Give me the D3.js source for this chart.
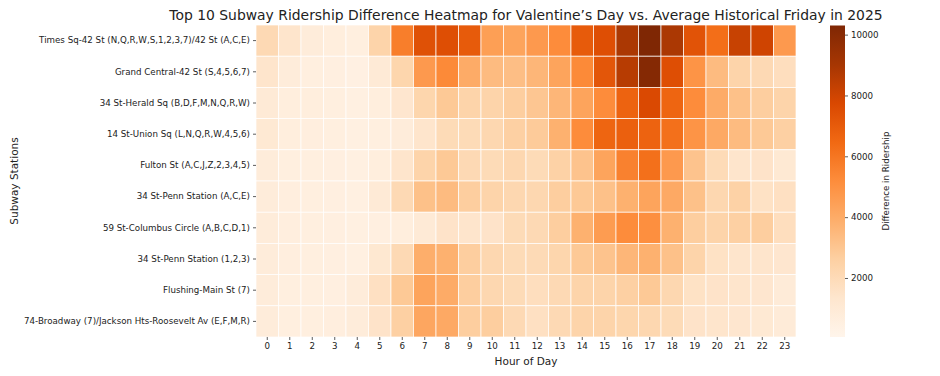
<!DOCTYPE html>
<html>
<head>
<meta charset="utf-8">
<script src="https://cdn.jsdelivr.net/npm/d3@7"></script>
<style>
  body { margin: 0; background: white; }
  text { font-family: "DejaVu Sans", sans-serif; fill: #222; }
</style>
</head>
<body>
<svg id="main-svg" width="940" height="376"></svg>
<script>
// stations (rows) and hours (columns)
const stations = [
    "Times Sq-42 St (N,Q,R,W,S,1,2,3,7)/42 St (A,C,E)",
    "Grand Central-42 St (S,4,5,6,7)",
    "34 St-Herald Sq (B,D,F,M,N,Q,R,W)",
    "14 St-Union Sq (L,N,Q,R,W,4,5,6)",
    "Fulton St (A,C,J,Z,2,3,4,5)",
    "34 St-Penn Station (A,C,E)",
    "59 St-Columbus Circle (A,B,C,D,1)",
    "34 St-Penn Station (1,2,3)",
    "Flushing-Main St (7)",
    "74-Broadway (7)/Jackson Hts-Roosevelt Av (E,F,M,R)"
];
const hours = d3.range(24);

// difference in ridership, one array per station (hours 0..23)
const timesSq      = [2100, 1400, 800, 700, 600, 2400, 5700, 7400, 7500, 7000, 4500, 4300, 4700, 5200, 7000, 7500, 8900, 10300, 8900, 7300, 6300, 8200, 8000, 4700];
const grandCentral = [1400, 800, 600, 550, 450, 1000, 2300, 4700, 5300, 4000, 3400, 3300, 3600, 4300, 5300, 7200, 8600, 10100, 7500, 4900, 3400, 2400, 2100, 1800];
const heraldSq     = [1000, 700, 700, 600, 500, 700, 1300, 2300, 2900, 2400, 2400, 2700, 3000, 3600, 4300, 5200, 6700, 7700, 6600, 5200, 4000, 3200, 2700, 2400];
const unionSq      = [1100, 700, 650, 600, 500, 600, 800, 1400, 2000, 2000, 2200, 2600, 2800, 3800, 5200, 6600, 6800, 6700, 6200, 4900, 4100, 3400, 2900, 2600];
const fultonSt     = [800, 600, 600, 550, 500, 700, 1400, 2400, 2900, 2100, 2000, 2200, 2000, 2500, 3100, 4300, 5600, 6200, 4700, 3100, 2000, 1400, 1500, 1100];
const pennACE      = [800, 650, 600, 550, 500, 1000, 2100, 3200, 3400, 2700, 2400, 2200, 2200, 2700, 2900, 3200, 3800, 4300, 4100, 3200, 2200, 2500, 1600, 1700];
const columbusCir  = [800, 650, 600, 550, 500, 550, 700, 1000, 1500, 1400, 1500, 2000, 2100, 2700, 3800, 4600, 5200, 5100, 3800, 2700, 2400, 2600, 2700, 1800];
const penn123      = [800, 650, 600, 550, 500, 1200, 2100, 3900, 3800, 2700, 2200, 2000, 2050, 2300, 2900, 3100, 3600, 3800, 3200, 2400, 1600, 1400, 1400, 1300];
const flushing     = [800, 600, 600, 550, 800, 1700, 2900, 4300, 4000, 2700, 2200, 2000, 1800, 2100, 2400, 2400, 2600, 2900, 2200, 1600, 1500, 1400, 1300, 900];
const broadway74   = [800, 600, 600, 650, 800, 1500, 2600, 4200, 4100, 2700, 2700, 2100, 1700, 2100, 2400, 2400, 2300, 2200, 2000, 1500, 1400, 1300, 1100, 900];

const rowValues = [timesSq, grandCentral, heraldSq, unionSq, fultonSt, pennACE, columbusCir, penn123, flushing, broadway74];
const colorTicks = [2000, 4000, 6000, 8000, 10000];
const colorMin = 60, colorMax = 10300;

// matplotlib "Oranges" anchors (linear segments)
const orangesStops = ["#fff5eb", "#fee6ce", "#fdd0a2", "#fdae6b", "#fd8d3c", "#f16913", "#d94801", "#a63603", "#7f2704"];
const oranges = d3.scaleLinear()
    .domain(d3.range(orangesStops.length).map(i => i / (orangesStops.length - 1)))
    .range(orangesStops)
    .interpolate(d3.interpolateRgb)
    .clamp(true);

const cells = [];
rowValues.forEach((vals, r) => {
    vals.forEach((v, h) => cells.push({ station: stations[r], hour: hours[h], value: v }));
});

const svg = d3.select("#main-svg");

// plot area
const plotLeft = 256, plotRight = 796, plotTop = 25, plotBottom = 337;

const x = d3.scaleBand().domain(hours).range([plotLeft, plotRight]);
const y = d3.scaleBand().domain(stations).range([plotTop, plotBottom]);
const color = d3.scaleSequential(oranges).domain([colorMin, colorMax]);

// cells
svg.append("g")
    .selectAll("rect")
    .data(cells)
    .join("rect")
    .attr("x", d => x(d.hour))
    .attr("y", d => y(d.station))
    .attr("width", x.bandwidth())
    .attr("height", y.bandwidth())
    .attr("fill", d => color(d.value))
    .attr("stroke", "white")
    .attr("stroke-width", 0.7);

// x axis
const xAxis = svg.append("g")
    .attr("transform", `translate(0,${plotBottom})`)
    .call(d3.axisBottom(x).tickSize(3).tickPadding(3));
xAxis.select(".domain").remove();
xAxis.selectAll("text").style("font-size", "8.7px").attr("fill", "#222");
xAxis.selectAll("line").attr("stroke", "#333").attr("stroke-width", 0.8);

// y axis
const yAxis = svg.append("g")
    .attr("transform", `translate(${plotLeft},0)`)
    .call(d3.axisLeft(y).tickSize(3).tickPadding(3));
yAxis.select(".domain").remove();
yAxis.selectAll("text").style("font-size", "8.7px").attr("fill", "#222");
yAxis.selectAll("line").attr("stroke", "#333").attr("stroke-width", 0.8);

// axis titles
svg.append("text")
    .attr("x", (plotLeft + plotRight) / 2)
    .attr("y", 365)
    .attr("text-anchor", "middle")
    .style("font-size", "10.5px")
    .text("Hour of Day");

svg.append("text")
    .attr("transform", `translate(18,${(plotTop + plotBottom) / 2}) rotate(-90)`)
    .attr("text-anchor", "middle")
    .style("font-size", "10.5px")
    .text("Subway Stations");

// title
svg.append("text")
    .attr("x", (plotLeft + plotRight) / 2)
    .attr("y", 20)
    .attr("text-anchor", "middle")
    .style("font-size", "13.9px")
    .text("Top 10 Subway Ridership Difference Heatmap for Valentine\u2019s Day vs. Average Historical Friday in 2025");

// colorbar
const cbX = 830, cbW = 15;
const cbScale = d3.scaleLinear().domain([colorMin, colorMax]).range([plotBottom, plotTop + 0.5]);

const defs = svg.append("defs");
const grad = defs.append("linearGradient")
    .attr("id", "cb-grad")
    .attr("x1", 0).attr("y1", 1).attr("x2", 0).attr("y2", 0);
orangesStops.forEach((c, i) => {
    grad.append("stop")
        .attr("offset", i / (orangesStops.length - 1))
        .attr("stop-color", c);
});

svg.append("rect")
    .attr("x", cbX)
    .attr("y", cbScale(colorMax))
    .attr("width", cbW)
    .attr("height", cbScale(colorMin) - cbScale(colorMax))
    .attr("fill", "url(#cb-grad)");

const cbAxis = svg.append("g")
    .attr("transform", `translate(${cbX + cbW},0)`)
    .call(d3.axisRight(cbScale).tickValues(colorTicks).tickFormat(d3.format("d")).tickSize(3).tickPadding(3));
cbAxis.select(".domain").remove();
cbAxis.selectAll("text").style("font-size", "8.7px").attr("fill", "#222");
cbAxis.selectAll("line").attr("stroke", "#333").attr("stroke-width", 0.8);

svg.append("text")
    .attr("transform", `translate(889,${(plotTop + plotBottom) / 2}) rotate(-90)`)
    .attr("text-anchor", "middle")
    .style("font-size", "8.7px")
    .text("Difference in Ridership");
</script>
</body>
</html>
